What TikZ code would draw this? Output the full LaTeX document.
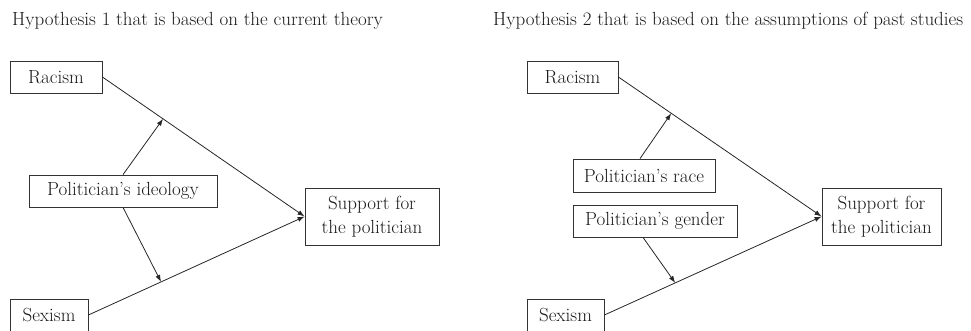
\documentclass[tikz,border=0pt]{standalone}
\usepackage{tikz}
\usetikzlibrary{calc,positioning,arrows.meta}

\begin{document}
\begin{tikzpicture}[
  x=1pt, y=-1pt,
  font=\fontsize{19}{23.5}\selectfont,
  color=black!90,
  box/.style={rectangle,draw=black!80,line width=.8pt,inner sep=0pt,align=center},
  link/.style={-{Latex[length=7pt,width=5pt]},line width=.8pt,black!85},
  ]

  \useasboundingbox (0,0) rectangle (971,330);
  \clip (0,0) rectangle (971,330);

  % titles
  \node (title_1) [anchor=base west,inner sep=0pt] at (12,25) {Hypothesis 1 that is based on the current theory};
  \node (title_2) [anchor=base west,inner sep=0pt] at (493,25) {Hypothesis 2 that is based on the assumptions of past studies};

  % hypothesis 1
  \node (racism_1) [box,minimum width=92,minimum height=32] at (56,77) {Racism};
  \node (ideology_1) [box,minimum width=188,minimum height=32] at (123,191) {Politician's ideology};
  \node (support_1) [box,minimum width=134,minimum height=57] at (372,216.5) {Support for\\the politician};
  \node (sexism_1) [box,minimum width=78,minimum height=32] at (49,315) {Sexism};

  \draw [link] (racism_1.east) -- (support_1.west);
  \draw [link] (sexism_1.east) -- (support_1.west);

  \coordinate (mod_up_1) at ($(racism_1.east)!.30!(support_1.west)$);
  \coordinate (mod_down_1) at ($(sexism_1.east)!.336!(support_1.west)$);
  \draw [link] (ideology_1.north) -- (mod_up_1);
  \draw [link] (ideology_1.south) -- (mod_down_1);

  % hypothesis 2
  \node (racism_2) [box,minimum width=91,minimum height=32] at (572.5,77) {Racism};
  \node (race_2) [box,minimum width=142,minimum height=33] at (644,175.5) {Politician's race};
  \node (gender_2) [box,minimum width=164,minimum height=32] at (655,221) {Politician's gender};
  \node (support_2) [box,minimum width=119,minimum height=57] at (881.5,216.5) {Support for\\the politician};
  \node (sexism_2) [box,minimum width=77,minimum height=32] at (565.5,315) {Sexism};

  \draw [link] (racism_2.east) -- (support_2.west);
  \draw [link] (sexism_2.east) -- (support_2.west);

  \coordinate (mod_up_2) at ($(racism_2.east)!.26!(support_2.west)$);
  \coordinate (mod_down_2) at ($(sexism_2.east)!.326!(support_2.west)$);
  \draw [link] ($(race_2.north)+(-4,0)$) -- (mod_up_2);
  \draw [link] ($(gender_2.south)+(-12,0)$) -- (mod_down_2);

\end{tikzpicture}
\end{document}
